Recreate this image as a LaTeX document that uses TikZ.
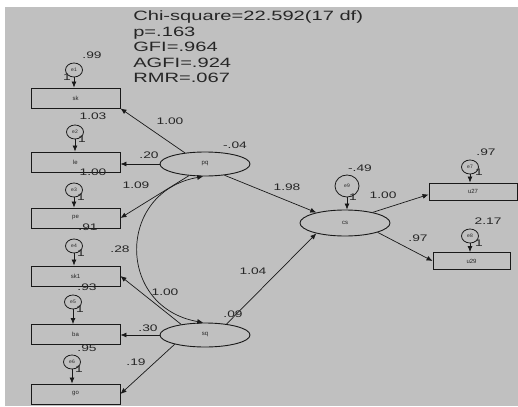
\documentclass[tikz,border=0pt]{standalone}
\usepackage{fontspec}
\setmainfont{Liberation Sans}
\usetikzlibrary{shapes.geometric,arrows.meta}
\definecolor{amosbg}{HTML}{C0C0C0}

\begin{document}
\begin{tikzpicture}[x=1pt, y=1pt, >={Latex[length=6pt,width=5pt]},
  every node/.style={text=black!85},
  obs/.style={draw=black!90, line width=0.9pt, minimum width=89pt, minimum height=20pt, inner sep=0pt, font=\fontsize{6}{7}\selectfont},
  lat/.style={draw=black!90, ellipse, line width=0.9pt, minimum width=90pt, minimum height=24pt, inner sep=0pt, font=\fontsize{6}{7}\selectfont},
  feil/.style={draw=black!90, ellipse, line width=0.8pt, minimum width=17pt, minimum height=14pt, inner sep=0pt, font=\fontsize{5}{6}\selectfont},
  tall/.style={font=\fontsize{9.5}{10}\selectfont, xscale=1.45, inner sep=0pt},
  stor/.style={font=\fontsize{13.5}{15}\selectfont, xscale=1.49, inner sep=0pt},
  pil/.style={->, draw=black!90, line width=0.7pt}]
  \useasboundingbox (0,0) rectangle (518,-406);
  % Bakgrunn
  \fill[white] (0,0) rectangle (518,-406);
  \fill[amosbg] (5,-7) rectangle (518,-406);
  % Tilpasning
  \foreach \tekst [count=\i] in {Chi-square=22.592(17 df), p=.163, GFI=.964, AGFI=.924, RMR=.067}
    \node[stor, anchor=base west] (fit\i) at (133, {-20.5-15.6*(\i-1)}) {\tekst};
  % Observerte variabler
  \node[obs] (sk)  at (75.5,-98)  {sk};
  \node[obs] (le)  at (75.5,-162) {le};
  \node[obs] (pe)  at (75.5,-218) {pe};
  \node[obs] (sk1) at (75.5,-276) {sk1};
  \node[obs] (ba)  at (75.5,-334.5) {ba};
  \node[obs] (go)  at (75.5,-394) {go};
  \node[obs, minimum width=88pt, minimum height=17pt] (u27) at (473,-191.5) {u27};
  \node[obs, minimum width=77pt, minimum height=17pt] (u29) at (471.5,-261) {u29};
  % Latente variabler
  \node[lat] (pq) at (205,-164) {pq};
  \node[lat] (sq) at (205,-335) {sq};
  \node[lat, minimum height=26pt] (cs) at (345,-223) {cs};
  % Feilledd
  \node[feil] (e1) at (74,-70)  {e1};
  \node[feil] (e2) at (75,-132) {e2};
  \node[feil] (e3) at (74,-190) {e3};
  \node[feil] (e4) at (74,-246) {e4};
  \node[feil] (e5) at (73,-302) {e5};
  \node[feil] (e6) at (72,-362) {e6};
  \node[feil] (e7) at (470,-167) {e7};
  \node[feil] (e8) at (470,-236) {e8};
  \node[feil, minimum width=24pt, minimum height=22pt] (e9) at (347,-186) {e9};
  \foreach \e/\b in {e1/sk, e2/le, e3/pe, e4/sk1, e5/ba, e6/go, e7/u27, e8/u29, e9/cs}
    \draw[pil] (\e.south) -- (\e.south |- \b.north);
  % Ladninger
  \draw[pil] (pq.151) -- (sk.south east);
  \draw[pil] (pq.west) -- (pq.west -| le.east);
  \draw[pil] (pq.216) -- (pe.east);
  \draw[pil] (pq.330) -- (cs.160);
  \draw[pil] (sq.156) -- (sk1.east);
  \draw[pil] (sq.west) -- (sq.west -| ba.east);
  \draw[pil] (sq.197) -- (go.east);
  \draw[pil] (sq.27) -- (cs.200);
  \draw[pil] (cs.21) -- ([yshift=-3pt]u27.west);
  \draw[pil] (cs.344) -- (u29.west);
  % Kovarians
  \draw[pil, <->] (pq.262) to[out=190, in=170, looseness=1.55] (sq.98);
  % Varianser
  \node[tall] (v1) at (92,-55)   {.99};
  \node[tall] (v2) at (93,-116)  {1.03};
  \node[tall] (v3) at (93,-172)  {1.00};
  \node[tall] (v4) at (88,-227)  {.91};
  \node[tall] (v5) at (87,-287)  {.93};
  \node[tall] (v6) at (87,-348)  {.95};
  \node[tall] (v7) at (486,-152) {.97};
  \node[tall] (v8) at (488,-221) {2.17};
  \node[tall] (v9) at (360,-168) {-.49};
  \node[tall] (vpq) at (235,-145) {-.04};
  \node[tall] (vsq) at (233,-314) {.09};
  % Koeffisienter
  \node[tall] (k1) at (170,-121) {1.00};
  \node[tall] (k2) at (149,-155) {.20};
  \node[tall] (k3) at (136,-185) {1.09};
  \node[tall] (k4) at (120,-249) {.28};
  \node[tall] (k5) at (165,-292) {1.00};
  \node[tall] (k6) at (148,-328) {.30};
  \node[tall] (k7) at (136,-362) {.19};
  \node[tall] (k8) at (287,-187) {1.98};
  \node[tall] (k9) at (253,-271) {1.04};
  \node[tall] (k10) at (383,-195) {1.00};
  \node[tall] (k11) at (418,-238) {.97};
  % Faste ettere
  \node[tall] (f1) at (67,-77)  {1};
  \node[tall] (f2) at (82,-139) {1};
  \node[tall] (f3) at (81,-197) {1};
  \node[tall] (f4) at (81,-253) {1};
  \node[tall] (f5) at (80,-309) {1};
  \node[tall] (f6) at (79,-369) {1};
  \node[tall] (f7) at (479,-172) {1};
  \node[tall] (f8) at (479,-243) {1};
  \node[tall] (f9) at (353,-197) {1};
\end{tikzpicture}
\end{document}
